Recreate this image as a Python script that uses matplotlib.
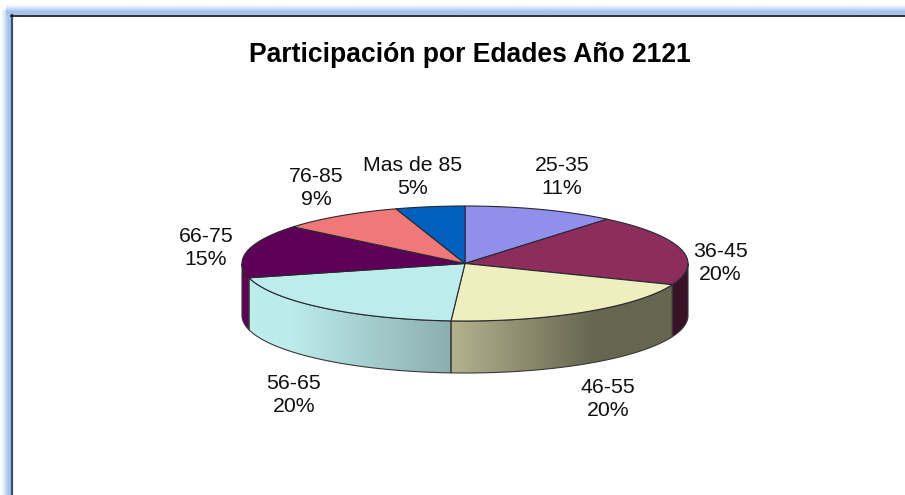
import matplotlib
matplotlib.use('Agg')
import matplotlib.pyplot as plt
import numpy as np
from matplotlib.colors import LinearSegmentedColormap
from matplotlib.patches import Polygon

# datos
edades = ['25-35', '36-45', '46-55', '56-65', '66-75', '76-85', 'Mas de 85']
valores = [11, 20, 20, 20, 15, 9, 5]
colores = ['#9090EC', '#8C2D5C', '#EEEEBE', '#BCECEC', '#5E0058', '#F07878', '#0060C0']
titulo = 'Participación por Edades Año 2121'

# geometria del pastel en pixeles
cx, cy = 465, 263.5
rx, ry = 223, 57.5
depth = 52
labels_pos = [(562, 177), (720, 263), (608, 399), (294, 395), (206, 248), (316, 188), (413, 177)]

# gradientes de las paredes laterales
wall_grad = {
    1: [(0, '#3A1228'), (1, '#3A1228')],
    2: [(0, '#B4B28E'), (0.65, '#666650'), (1, '#666650')],
    3: [(0, '#BCECEC'), (0.2, '#BCECEC'), (1, '#8CAEB0')],
    4: [(0, '#5E0058'), (1, '#5E0058')],
}

plt.rcParams['font.family'] = ['Liberation Sans', 'DejaVu Sans']
fig = plt.figure(figsize=(9.05, 4.95), dpi=100)
ax = fig.add_axes([0, 0, 1, 1])
ax.set_xlim(0, 905)
ax.set_ylim(495, 0)
ax.axis('off')


def ellipse_pt(a):
    # angulo en grados, horario desde arriba
    r = np.radians(a)
    return cx + rx * np.sin(r), cy - ry * np.cos(r)


# marco con sombra azul
glow = LinearSegmentedColormap.from_list('glow', ['#FFFFFF', '#D8E6F8', '#A4C4F0', '#A4C4F0'])
ax.imshow(np.linspace(0, 1, 32).reshape(1, -1), extent=(1, 11, 495, 10), cmap=glow, aspect='auto', zorder=1)
ax.imshow(np.linspace(0, 1, 32).reshape(-1, 1), extent=(6, 905, 15, 4), cmap=glow, aspect='auto', zorder=1)
ax.plot([11.5, 11.5], [15, 495], color='#3C5064', lw=1.6, zorder=2)
ax.plot([11, 905], [15.5, 15.5], color='#101010', lw=1.2, zorder=2)

# angulos acumulados
limites = np.cumsum([0] + valores) / sum(valores) * 360

# paredes
for i in range(len(valores)):
    a0, a1 = max(limites[i], 90), min(limites[i + 1], 270)
    if a1 <= a0:
        continue
    t = np.linspace(a0, a1, 80)
    xs, ys = ellipse_pt(t)
    verts = np.vstack([np.column_stack([xs, ys]), np.column_stack([xs[::-1], ys[::-1] + depth])])
    patch = Polygon(verts, closed=True, fc='none', ec='none', zorder=3)
    ax.add_patch(patch)
    cmap = LinearSegmentedColormap.from_list('w%d' % i, wall_grad[i])
    im = ax.imshow(np.linspace(0, 1, 256).reshape(1, -1), extent=(xs.min(), xs.max(), 495, 0),
                   cmap=cmap, aspect='auto', zorder=3)
    im.set_clip_path(patch)
    ax.add_patch(Polygon(verts, closed=True, fc='none', ec='#383838', lw=0.8, zorder=4))

# tapa
for i in range(len(valores)):
    t = np.linspace(limites[i], limites[i + 1], 120)
    xs, ys = ellipse_pt(t)
    verts = np.vstack([[cx, cy], np.column_stack([xs, ys])])
    ax.add_patch(Polygon(verts, closed=True, fc=colores[i], ec='#282830', lw=0.8, zorder=5))

# etiquetas
for i in range(len(edades)):
    x, y = labels_pos[i]
    ax.text(x, y, '%s\n%d%%' % (edades[i], valores[i]), ha='center', va='center',
            fontsize=15.3, color='#101010', linespacing=1.28, zorder=6)

ax.text(469.5, 55, titulo, ha='center', va='center', fontsize=19.1, fontweight='bold', color='black', zorder=6)

ax.set_xlim(0, 905)
ax.set_ylim(495, 0)
fig.savefig('out.png', dpi=100)
